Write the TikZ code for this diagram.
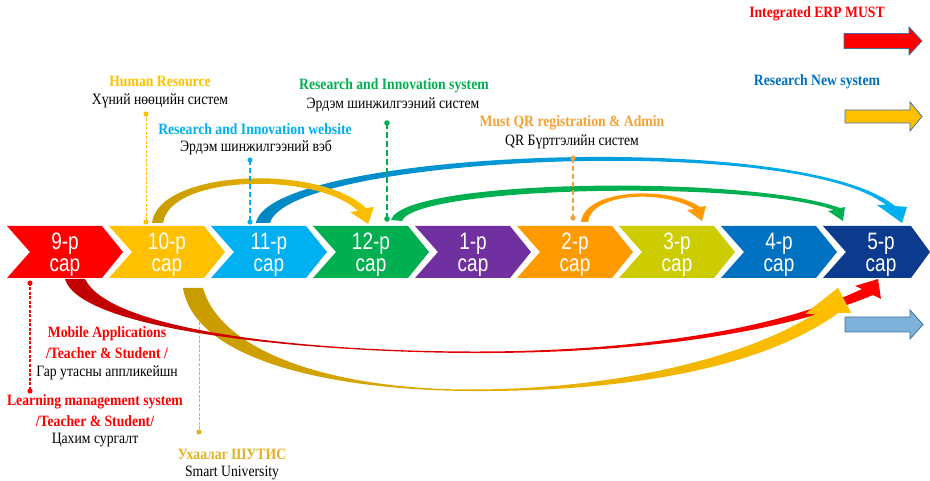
\documentclass[tikz,border=0pt]{standalone}
\usepackage{fontspec}
\usepackage{graphicx}
\setmainfont{Liberation Serif}
\newfontfamily\arialf{Liberation Sans}
\newcommand\vc[1]{\scalebox{1}[1.25]{#1}}
\newcommand\vl[1]{\scalebox{1}[1.15]{#1}}
\definecolor{cNine}{HTML}{FF0000}
\definecolor{cTen}{HTML}{FFC000}
\definecolor{cEleven}{HTML}{00B0F0}
\definecolor{cTwelve}{HTML}{00B050}
\definecolor{cOne}{HTML}{7030A0}
\definecolor{cTwo}{HTML}{FF9A00}
\definecolor{cThree}{HTML}{CCCC00}
\definecolor{cFour}{HTML}{0070C0}
\definecolor{cFive}{HTML}{0B3A8E}
\definecolor{goldDark}{HTML}{C89B00}
\definecolor{blueDark}{HTML}{0088C4}
\definecolor{redDark}{HTML}{C00000}
\definecolor{qrOrange}{HTML}{F7A033}
\definecolor{suGold}{HTML}{E5B020}
\definecolor{legBlue}{HTML}{7EB2DB}
\definecolor{legLine}{HTML}{41719C}
\begin{document}
\begin{tikzpicture}[x=1pt,y=-1pt,
  lbl/.style={inner sep=0pt, font=\fontsize{13.7}{15}\selectfont\bfseries},
  sub/.style={inner sep=0pt, text=black, font=\fontsize{13.7}{15}\selectfont},
  chevtxt/.style={inner sep=0pt, anchor=base, text=white, font=\arialf\fontsize{19}{21}\selectfont},
  legarrow/.style={draw=legLine, line width=0.8pt, line join=miter},
]
\useasboundingbox (0,0) rectangle (930,481);
\clip (0,0) rectangle (930,481);

% ---------- chevrons ----------
\foreach \i/\col/\num in {0/cNine/9,1/cTen/10,2/cEleven/11,3/cTwelve/12,4/cOne/1,5/cTwo/2,6/cThree/3,7/cFour/4} {
  \pgfmathsetmacro\s{7+102*\i}
  \fill[\col] (\s,226) -- ++(95,0) -- ++(21,26) -- ++(-21,26) -- ++(-95,0) -- ++(23,-26) -- cycle;
  \node[chevtxt] (n\i) at (\s+58,250) {\vc{\num-р}};
  \node[chevtxt] (m\i) at (\s+58,272) {\vc{сар}};
}
\fill[cFive] (823,226) -- (911,226) -- (930,252) -- (911,278) -- (823,278) -- (846,252) -- cycle;
\node[chevtxt] (n8) at (881,250) {\vc{5-р}};
\node[chevtxt] (m8) at (881,272) {\vc{сар}};

% ---------- top ribbons ----------
% blue: 11 -> 5
\shade[left color=blueDark, right color=cEleven]
  (256,223) .. controls (268,150) and (800,128) .. (895,206) -- (907,207) -- (902,223) -- (877,205) -- (886,205)
  .. controls (795,133) and (288,156) .. (270,223) -- cycle;
% gold: 10 -> 12
\shade[left color=goldDark, right color=cTen]
  (152,223) .. controls (158,170) and (318,163) .. (366,208) -- (374,207) -- (368,224) -- (350,212) -- (358,211)
  .. controls (318,172) and (170,174) .. (163,223) -- cycle;
% green: 12 -> 4/5
\fill[cTwelve]
  (391,220) .. controls (403,178) and (750,175) .. (840,208) -- (845,207) -- (843,221) -- (828,211) -- (834,210)
  .. controls (750,180) and (415,186) .. (402,221) -- cycle;
% orange: 2 -> 3
\fill[cTwo]
  (581,222) .. controls (585,188) and (670,186) .. (700,207) -- (706,206) -- (702,221) -- (687,210) -- (694,209)
  .. controls (665,190) and (592,192) .. (588,222) -- cycle;

% ---------- bottom ribbons ----------
\coordinate (suT) at (199,300);
\coordinate (suB) at (199,432);
\draw[suGold, line width=1pt, dash pattern=on 3pt off 1.5pt] (suT) -- (suB);
\fill[suGold] (suB) circle[radius=2.6pt];

\def\goldpath{(183,288) .. controls (195,360) and (330,390) .. (470,391) .. controls (620,392) and (760,370) .. (838,313) -- (851,313) -- (838,288) -- (805,314) -- (815,314) .. controls (740,360) and (610,389.5) .. (470,389.5) .. controls (340,389.5) and (222,355) .. (203,288) -- cycle}
\shade[left color=goldDark, right color=cTen] \goldpath;
\shade[left color=redDark, right color=cNine]
  (65,279) .. controls (80,330) and (300,352) .. (470,353) .. controls (650,354) and (790,330) .. (873,295)
  -- (881,299) -- (878,279) -- (855,286) -- (862,289)
  .. controls (780,328) and (640,352) .. (470,351.5) .. controls (300,351) and (110,330) .. (85,279) -- cycle;
\begin{scope}
  \clip (790,280) rectangle (860,330);
  \shade[left color=goldDark, right color=cTen] \goldpath;
\end{scope}

% ---------- dashed leader lines ----------
\coordinate (hrT) at (146,114); \coordinate (hrB) at (146,222);
\draw[cTen, line width=1pt, dash pattern=on 3pt off 1.5pt] (hrT) -- (hrB);
\fill[cTen] (hrT) circle[radius=2.6pt]; \fill[cTen] (hrB) circle[radius=2.6pt];

\coordinate (rwT) at (250,160); \coordinate (rwB) at (250,222);
\draw[cEleven, line width=1.5pt, dash pattern=on 5pt off 3pt] (rwT) -- (rwB);
\fill[cEleven] (rwT) circle[radius=2.6pt]; \fill[cEleven] (rwB) circle[radius=2.6pt];

\coordinate (rsT) at (387,123); \coordinate (rsB) at (387,219);
\draw[cTwelve, line width=2pt, dash pattern=on 6pt off 3pt] (rsT) -- (rsB);
\fill[cTwelve] (rsT) circle[radius=2.8pt]; \fill[cTwelve] (rsB) circle[radius=2.8pt];

\coordinate (qrT) at (573,158); \coordinate (qrB) at (573,218);
\draw[qrOrange, line width=1.3pt, dash pattern=on 5pt off 3pt] (qrT) -- (qrB);
\fill[qrOrange] (qrT) circle[radius=2.6pt]; \fill[qrOrange] (qrB) circle[radius=2.6pt];

\coordinate (maT) at (30,283); \coordinate (maB) at (30,391);
\draw[cNine, line width=1.2pt, dash pattern=on 3pt off 1.5pt] (maT) -- (maB);
\fill[cNine] (maT) circle[radius=2.6pt]; \fill[cNine] (maB) circle[radius=2.6pt];

% ---------- legend arrows ----------
\path[fill=cNine, legarrow] (844,33.5) -- (909,33.5) -- (909,27) -- (922,41) -- (909,55) -- (909,48.5) -- (844,48.5) -- cycle;
\path[fill=cTen, legarrow] (845,110) -- (910,110) -- (910,102) -- (922,116.5) -- (910,131) -- (910,123) -- (845,123) -- cycle;
\path[fill=legBlue, legarrow] (845,317) -- (910,317) -- (910,310) -- (923,324.5) -- (910,339) -- (910,332) -- (845,332) -- cycle;

% ---------- labels ----------
\node[lbl, text=cNine] (erp) at (817,14) {\vl{Integrated ERP MUST}};
\node[lbl, text=cFour] (rns) at (817,82) {\vl{Research New system}};

\node[lbl, text=cTen] (hr) at (160,81) {\vl{Human Resource}};
\node[sub] (hrs) at (160,101) {\vl{Хүний нөөцийн систем}};

\node[lbl, text=cEleven] (rw) at (255,129) {\vl{Research and Innovation website}};
\node[sub] (rws) at (256,148) {\vl{Эрдэм шинжилгээний вэб}};

\node[lbl, text=cTwelve] (rs) at (394,86) {\vl{Research and Innovation system}};
\node[sub] (rss) at (393,105) {\vl{Эрдэм шинжилгээний систем}};

\node[lbl, text=qrOrange] (qr) at (572,123) {\vl{Must QR registration \& Admin}};
\node[sub] (qrs) at (572,142) {\vl{QR Бүртгэлийн систем}};

\node[lbl, text=cNine] (ma1) at (107,334) {\vl{Mobile Applications}};
\node[lbl, text=cNine] (ma2) at (107,353) {\vl{/Teacher \& Student /}};
\node[sub] (ma3) at (107,373) {\vl{Гар утасны аппликейшн}};

\node[lbl, text=cNine] (lm1) at (95,402) {\vl{Learning management system}};
\node[lbl, text=cNine] (lm2) at (95,421) {\vl{/Teacher \& Student/}};
\node[sub] (lm3) at (95,440) {\vl{Цахим сургалт}};

\node[lbl, text=suGold] (su1) at (232,454) {\vl{Ухаалаг ШУТИС}};
\node[sub] (su2) at (232,473) {\vl{Smart University}};
\end{tikzpicture}
\end{document}
